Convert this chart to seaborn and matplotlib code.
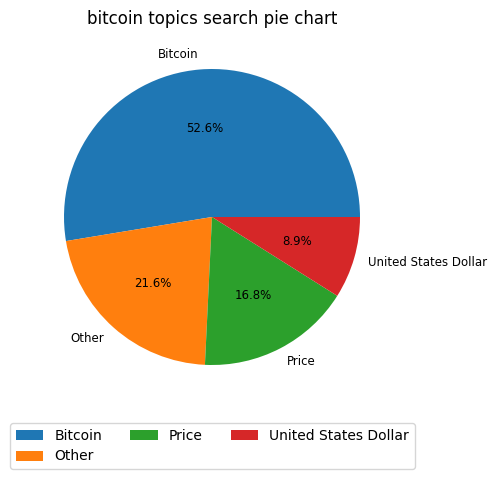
import matplotlib
matplotlib.use("Agg")
import matplotlib.pyplot as plt
import seaborn as sns

topics = ["Bitcoin", "Other", "Price", "United States Dollar"]
shares = [52.6, 21.64, 16.82, 8.94]

colors = sns.color_palette("tab10", 4)

fig = plt.figure(figsize=(4.97, 4.79), dpi=100)
# pie centred at (212, 217) px, radius ~148 px
ax = fig.add_axes([27 / 497, 1 - 402 / 479, 370 / 497, 370 / 479])

ax.pie(shares, labels=topics, autopct='%1.1f%%', colors=colors,
       textprops={'fontsize': 8.5})
ax.set_title('bitcoin topics search pie chart', fontsize=12)

ax.legend(loc='upper left', ncol=3, bbox_to_anchor=(10 / 497, 1 - 423 / 479),
          bbox_transform=fig.transFigure, borderaxespad=0)

fig.savefig("out.png", dpi=100)
